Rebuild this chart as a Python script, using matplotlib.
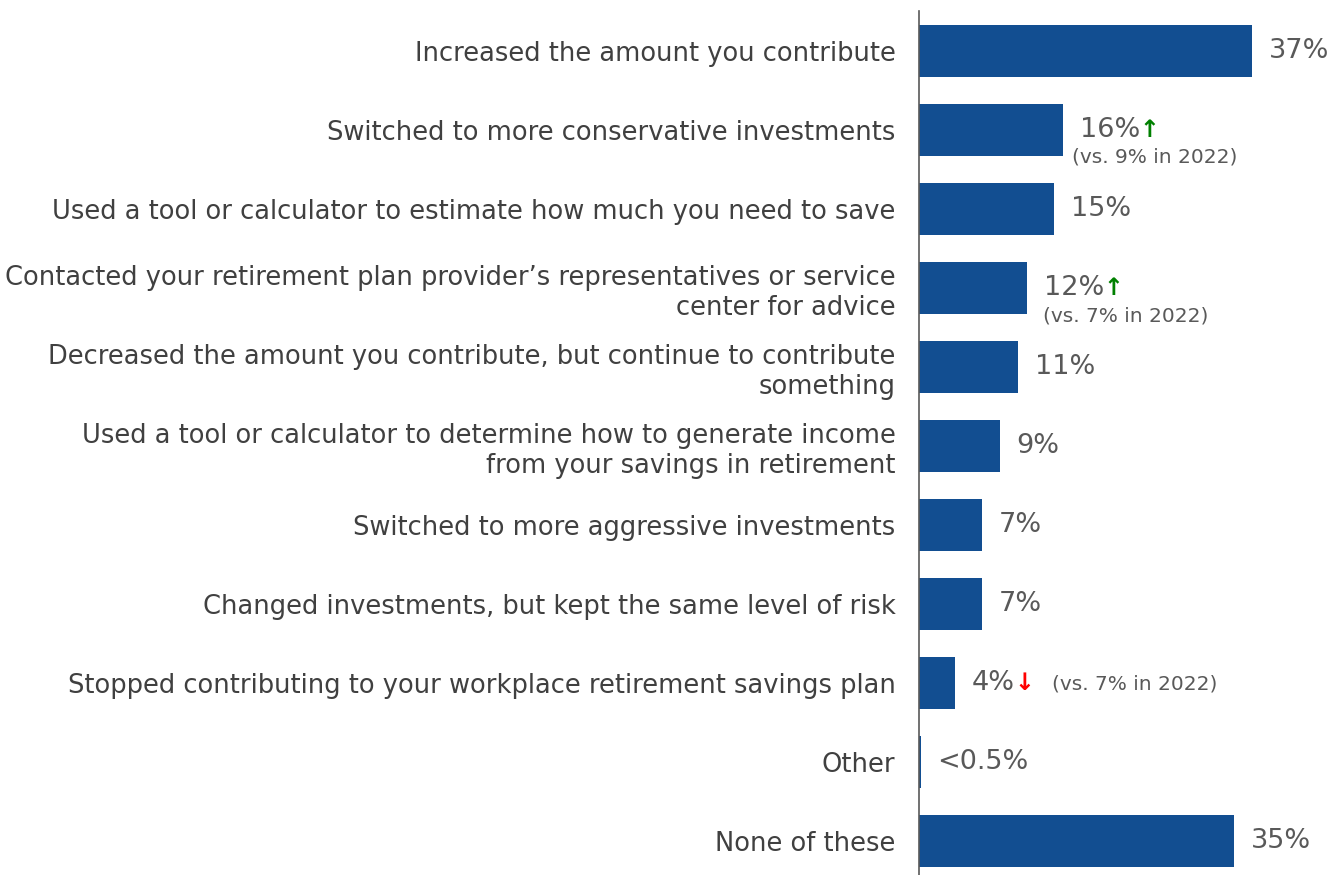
import matplotlib.pyplot as plt

# ------------------------------------------------------------
# Data
# ------------------------------------------------------------
categories = [
    "Increased the amount you contribute",
    "Switched to more conservative investments",
    "Used a tool or calculator to estimate how much you need to save",
    "Contacted your retirement plan provider\u2019s representatives or service\ncenter for advice",
    "Decreased the amount you contribute, but continue to contribute\nsomething",
    "Used a tool or calculator to determine how to generate income\nfrom your savings in retirement",
    "Switched to more aggressive investments",
    "Changed investments, but kept the same level of risk",
    "Stopped contributing to your workplace retirement savings plan",
    "Other",
    "None of these",
]
values = [37, 16, 15, 12, 11, 9, 7, 7, 4, 0.2, 35]
value_labels = ["37%", "16%", "15%", "12%", "11%", "9%", "7%", "7%", "4%", "<0.5%", "35%"]
# change vs. 2022: index -> (arrow, comparison text)
changes = {
    1: ("\u2191", "(vs. 9% in 2022)"),
    3: ("\u2191", "(vs. 7% in 2022)"),
    8: ("\u2193", "(vs. 7% in 2022)"),
}
# where the comparison note sits, offset from bar end in points
note_offsets = {1: (6.5, -19.5, "left"), 3: (11.5, -20, "left"), 8: (70, -1, "left")}

BAR = "#124E91"
TXT = "#404040"
VAL = "#595959"

plt.rcParams['font.family'] = ['DejaVu Sans']

fig = plt.figure(figsize=(13.3, 8.75), dpi=100)
ax = fig.add_axes([919 / 1330, 0, 411 / 1330, 1 - 11.5 / 875])

ypos = list(range(len(categories)))
ax.barh(ypos, values, height=0.66, color=BAR)

ax.set_xlim(0, 411 / 9)
ax.set_ylim(10.43, -0.5)

ax.set_yticks(ypos)
ax.set_yticklabels(categories, fontsize=18.5, color=TXT, linespacing=1.22)
ax.tick_params(axis="y", length=0, pad=17)
ax.set_xticks([])

for s in ["top", "right", "bottom"]:
    ax.spines[s].set_visible(False)
ax.spines["left"].set_color("#595959")
ax.spines["left"].set_linewidth(1.2)

for i, (v, lab) in enumerate(zip(values, value_labels)):
    t = ax.annotate(lab, xy=(v, i), xytext=(12, 0), textcoords="offset points",
                    ha="left", va="center", fontsize=19.5, color=VAL)
    if i in changes:
        arrow, note = changes[i]
        col = "green" if arrow == "\u2191" else "red"
        ax.annotate(arrow, xy=(1, 0.5), xycoords=t, xytext=(0, 0),
                    textcoords="offset points", ha="left", va="center",
                    fontsize=17, color=col, fontweight="bold")
        dx, dy, ha = note_offsets[i]
        ax.annotate(note, xy=(v, i), xytext=(dx, dy), textcoords="offset points",
                    ha=ha, va="center", fontsize=14.5, color=VAL)

fig.savefig("out.png", dpi=100)
